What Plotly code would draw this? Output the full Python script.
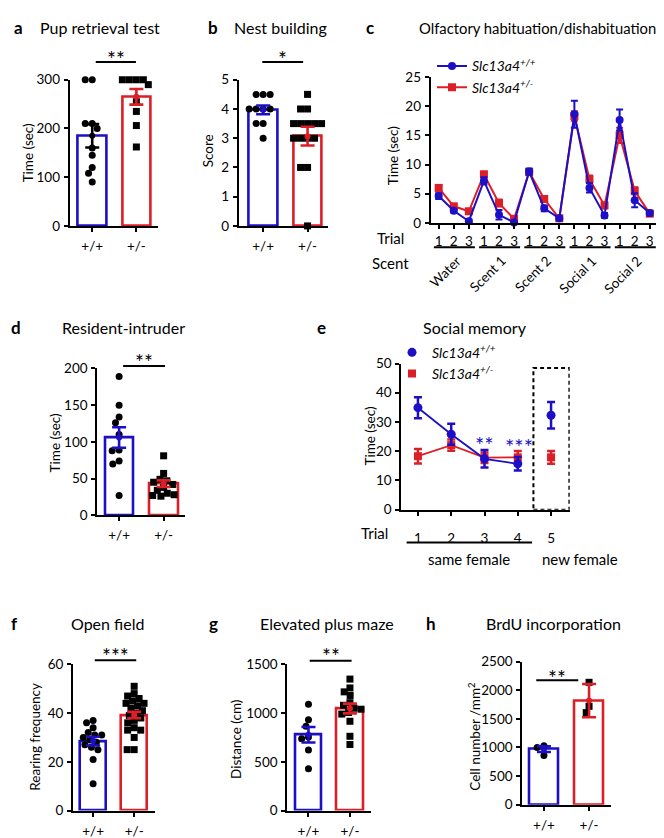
import numpy as np
import plotly.graph_objects as go

W, H = 664, 838
FONT = "Lato, 'Open Sans', sans-serif"
BLUE = "#1d0fc6"
RED = "#dc1f26"

# ---------------- data ----------------
genotypes = ["+/+", "+/-"]

# a  Pup retrieval test (sec)
a_wt = [300, 300, 210, 210, 200, 160, 145, 120, 108, 90]
a_het = [300, 300, 300, 300, 290, 255, 235, 206, 162]
a_mean = [185, 265]
a_sem = [24, 16]

# b  Nest building (score)
b_wt = [4.5, 4.5, 4.5, 4, 4, 4, 4, 3.5, 3.5, 3]
b_het = [4.5, 4, 4, 3.5, 3.5, 3.5, 3.5, 3.5, 3, 3, 3, 3, 2, 2, 0]
b_mean = [3.97, 3.07]
b_sem = [0.15, 0.32]

# c  Olfactory habituation/dishabituation (sec)
c_trials = ["1", "2", "3"] * 5
c_scents = ["Water", "Scent 1", "Scent 2", "Social 1", "Social 2"]
c_wt = [4.6, 2.1, 0.3, 7.2, 1.4, 0.1, 8.8, 2.5, 0.8, 18.6, 6.0, 1.3, 17.6, 3.9, 1.7]
c_wt_err = [0.5, 0.3, 0.3, 0.6, 0.8, 0.2, 0.5, 0.5, 0.3, 2.3, 0.8, 0.4, 1.8, 1.2, 0.4]
c_het = [6.0, 2.85, 2.0, 8.3, 3.4, 0.7, 8.7, 4.1, 0.8, 18.3, 7.5, 3.0, 15.0, 5.5, 1.6]
c_het_err = [0.5, 0.3, 0.3, 0.5, 0.6, 0.3, 0.5, 0.5, 0.3, 0.8, 0.6, 0.5, 1.3, 0.6, 0.4]

# d  Resident-intruder (sec)
d_wt = [189, 150, 134, 126, 110, 89, 88, 74, 70, 27]
d_het = [81, 57, 49, 47, 45, 42, 38, 34, 30, 28, 27, 26]
d_mean = [106, 43]
d_sem = [14, 4.5]

# e  Social memory (sec)
e_trials = [1, 2, 3, 4, 5]
e_wt = [34.9, 25.8, 17.4, 15.7, 32.3]
e_wt_err = [3.6, 3.6, 3.0, 2.3, 4.5]
e_het = [18.3, 22.1, 17.8, 17.9, 17.9]
e_het_err = [2.5, 1.9, 1.8, 2.2, 2.2]

# f  Open field (rearing frequency)
f_wt = [37, 36, 34, 32, 31, 31, 30, 29, 28, 27, 26, 25, 21, 11]
f_het = [51, 48, 47, 46, 45, 44, 44, 43, 42, 41, 40, 39, 38, 37, 36, 34, 33, 33, 30, 25, 25]
f_mean = [28.5, 39.2]
f_sem = [1.8, 1.3]

# g  Elevated plus maze (cm)
g_wt = [1090, 932, 866, 755, 738, 621, 430]
g_het = [1349, 1258, 1218, 1181, 1107, 1080, 1050, 1040, 1006, 990, 916, 762, 678]
g_mean = [778, 1047]
g_sem = [80, 50]

# h  BrdU incorporation (cells/mm2)
h_wt = [860, 1000, 1030]
h_het = [2140, 1720, 1610]
h_mean = [970, 1820]
h_sem = [50, 290]

# ---------------- helpers ----------------
def px(x):
    return x / W


def py(y):
    return 1 - y / H


BOX = {
    "a": dict(n="", x=(61.7, 150), y=(65, 214), xr=(-0.51, 1.49), yr=(0, 300), dt=100),
    "b": dict(n="2", x=(230.7, 320), y=(65, 214), xr=(-0.55, 1.46), yr=(0, 5), dt=1),
    "c": dict(n="3", x=(422.7, 649.3), y=(62, 211), xr=(-0.53, 14.5), yr=(0, 25), dt=5),
    "d": dict(n="4", x=(89.3, 177), y=(359.3, 509), xr=(-0.49, 1.48), yr=(0, 200), dt=50),
    "e": dict(n="5", x=(393.3, 561.7), y=(354.3, 503.3), xr=(0.5, 5.56), yr=(0, 50), dt=10),
    "f": dict(n="6", x=(65, 146.7), y=(661, 810), xr=(-0.49, 1.5), yr=(0, 60), dt=20),
    "g": dict(n="7", x=(279.3, 362.7), y=(661, 810), xr=(-0.51, 1.5), yr=(0, 1500), dt=500),
    "h": dict(n="8", x=(514.3, 602.7), y=(658.3, 804), xr=(-0.48, 1.48), yr=(0, 2500), dt=500),
}


def swarm(vals, ppu, ppc, d=7.0):
    vals = np.asarray(vals, float)
    order = np.argsort(-vals, kind="stable")
    placed = []
    offs = np.zeros(len(vals))
    for i in order:
        yv = vals[i] * ppu
        blocked = []
        for xp, yp in placed:
            dy = abs(yv - yp)
            if dy < d:
                dx = np.sqrt(d * d - dy * dy)
                blocked.append((xp - dx, xp + dx))
        cands = [0.0] + [b for iv in blocked for b in iv]
        cands = sorted(cands, key=lambda c: (round(abs(c), 6), c))
        xsel = 0.0
        for c in cands:
            if all(not (lo + 1e-6 < c < hi - 1e-6) for lo, hi in blocked):
                xsel = c
                break
        placed.append((xsel, yv))
        offs[i] = xsel / ppc
    return offs


fig = go.Figure()
annotations = []
shapes = []
layout_axes = {}

tickfont = dict(family=FONT, size=13.5, color="black")


def make_axes(key, xticks=None, xtext=None, standoff=2):
    b = BOX[key]
    n = b["n"]
    xa = dict(domain=[px(b["x"][0]), px(b["x"][1])], range=list(b["xr"]),
              anchor="y" + n, showline=True, linecolor="black", linewidth=2,
              ticks="outside", ticklen=4, tickwidth=2, tickcolor="black",
              showgrid=False, zeroline=False, tickfont=tickfont,
              tickvals=xticks, ticktext=xtext, ticklabelstandoff=standoff,
              fixedrange=True)
    ya = dict(domain=[py(b["y"][1]), py(b["y"][0])], range=list(b["yr"]),
              anchor="x" + n, showline=True, linecolor="black", linewidth=2,
              ticks="outside", ticklen=4, tickwidth=2, tickcolor="black",
              showgrid=False, zeroline=False, tickfont=tickfont,
              tick0=0, dtick=b["dt"], ticklabelstandoff=1, fixedrange=True)
    layout_axes["xaxis" + n] = xa
    layout_axes["yaxis" + n] = ya


def label(x, y, text, size=16, bold=False, angle=0, xref="paper", yref="paper",
          xanchor="center", yanchor="middle", color="black"):
    if bold:
        text = "<b>" + text + "</b>"
    annotations.append(dict(x=x, y=y, xref=xref, yref=yref, text=text, showarrow=False,
                            textangle=angle, xanchor=xanchor, yanchor=yanchor,
                            font=dict(family=FONT, size=size, color=color)))


def bar_panel(key, wt, het, means, sems, errcols, sig_x, sig_y, stars, star_y):
    b = BOX[key]
    n = b["n"]
    xs = np.arange(len(genotypes))
    make_axes(key, xticks=list(xs), xtext=genotypes, standoff=3)
    ppu = (b["y"][1] - b["y"][0]) / (b["yr"][1] - b["yr"][0])
    ppc = (b["x"][1] - b["x"][0]) / (b["xr"][1] - b["xr"][0])
    fig.add_trace(go.Bar(x=xs, y=means, width=0.64,
                         marker=dict(color="white", line=dict(color=[BLUE, RED], width=2.6)),
                         xaxis="x" + n, yaxis="y" + n, showlegend=False, cliponaxis=False))
    fig.add_trace(go.Scatter(x=xs[0] + swarm(wt, ppu, ppc), y=wt, mode="markers",
                             marker=dict(symbol="circle", size=7, color="black"),
                             xaxis="x" + n, yaxis="y" + n, showlegend=False, cliponaxis=False))
    fig.add_trace(go.Scatter(x=xs[1] + swarm(het, ppu, ppc), y=het, mode="markers",
                             marker=dict(symbol="square", size=7, color="black"),
                             xaxis="x" + n, yaxis="y" + n, showlegend=False, cliponaxis=False))
    for i in range(len(genotypes)):
        fig.add_trace(go.Scatter(x=[xs[i]], y=[means[i]], mode="markers",
                                 marker=dict(size=0, color=errcols[i]),
                                 error_y=dict(type="data", array=[sems[i]], color=errcols[i],
                                              thickness=2.6, width=7),
                                 xaxis="x" + n, yaxis="y" + n, showlegend=False, cliponaxis=False))
    shapes.append(dict(type="line", xref="x" + n, yref="paper", x0=sig_x[0], x1=sig_x[1],
                       y0=py(sig_y), y1=py(sig_y), line=dict(color="black", width=2)))
    label((sig_x[0] + sig_x[1]) / 2, py(star_y), stars, size=21, xref="x" + n)


# ---------------- bar panels ----------------
bar_panel("a", a_wt, a_het, a_mean, a_sem, ["black", RED], (0.08, 0.99), 47, "**", 43)
bar_panel("b", b_wt, b_het, b_mean, b_sem, [BLUE, RED], (-0.02, 0.9), 47, "*", 43)
bar_panel("d", d_wt, d_het, d_mean, d_sem, [BLUE, RED], (0.09, 1.03), 356.7, "**", 352)
bar_panel("f", f_wt, f_het, f_mean, f_sem, [BLUE, RED], (0.04, 1.05), 656.7, "***", 652)
bar_panel("g", g_wt, g_het, g_mean, g_sem, [BLUE, RED], (0.03, 1.04), 657.3, "**", 652)
bar_panel("h", h_wt, h_het, h_mean, h_sem, [BLUE, RED], (-0.17, 0.76), 677.3, "**", 674)

# ---------------- panel c ----------------
ci = np.arange(len(c_trials))
make_axes("c", xticks=list(ci), xtext=c_trials, standoff=1)
name_wt = "<i>Slc13a4</i><sup><i>+/+</i></sup>"
name_het = "<i>Slc13a4</i><sup><i>+/-</i></sup>"
fig.add_trace(go.Scatter(x=ci, y=c_het, mode="lines+markers", name=name_het,
                         line=dict(color=RED, width=2), marker=dict(symbol="square", size=8, color=RED),
                         error_y=dict(type="data", array=c_het_err, color=RED, thickness=2, width=3.5),
                         xaxis="x3", yaxis="y3", legend="legend", legendrank=2, cliponaxis=False))
fig.add_trace(go.Scatter(x=ci, y=c_wt, mode="lines+markers", name=name_wt,
                         line=dict(color=BLUE, width=2), marker=dict(symbol="circle", size=8, color=BLUE),
                         error_y=dict(type="data", array=c_wt_err, color=BLUE, thickness=2, width=3.5),
                         xaxis="x3", yaxis="y3", legend="legend", legendrank=1, cliponaxis=False))
for g, nm in enumerate(c_scents):
    shapes.append(dict(type="line", xref="x3", yref="paper", x0=3 * g - 0.32, x1=3 * g + 2.4,
                       y0=py(235.7), y1=py(235.7), line=dict(color="black", width=2)))
    label(3 * g + 1.85, py(239), nm, size=13.5, angle=-45, xref="x3",
          xanchor="right", yanchor="top")
label(px(383), py(226.5), "Trial", size=15)
label(px(383), py(252), "Scent", size=15)

# ---------------- panel e ----------------
make_axes("e", xticks=e_trials, xtext=[str(t) for t in e_trials], standoff=11)
fig.add_trace(go.Scatter(x=e_trials[:4], y=e_het[:4], mode="lines+markers",
                         line=dict(color=RED, width=1.8), marker=dict(symbol="square", size=8, color=RED),
                         error_y=dict(type="data", array=e_het_err[:4], color=RED, thickness=2.5, width=4),
                         xaxis="x5", yaxis="y5", showlegend=False, cliponaxis=False))
fig.add_trace(go.Scatter(x=e_trials[:4], y=e_wt[:4], mode="lines+markers",
                         line=dict(color=BLUE, width=1.8), marker=dict(symbol="circle", size=9, color=BLUE),
                         error_y=dict(type="data", array=e_wt_err[:4], color=BLUE, thickness=2.5, width=4),
                         xaxis="x5", yaxis="y5", showlegend=False, cliponaxis=False))
fig.add_trace(go.Scatter(x=e_trials[4:], y=e_het[4:], mode="markers", name=name_het,
                         marker=dict(symbol="square", size=8, color=RED),
                         error_y=dict(type="data", array=e_het_err[4:], color=RED, thickness=2.5, width=4),
                         xaxis="x5", yaxis="y5", legend="legend2", legendrank=2, cliponaxis=False))
fig.add_trace(go.Scatter(x=e_trials[4:], y=e_wt[4:], mode="markers", name=name_wt,
                         marker=dict(symbol="circle", size=9, color=BLUE),
                         error_y=dict(type="data", array=e_wt_err[4:], color=BLUE, thickness=2.5, width=4),
                         xaxis="x5", yaxis="y5", legend="legend2", legendrank=1, cliponaxis=False))
shapes.append(dict(type="rect", xref="x5", yref="y5", x0=4.47, x1=5.55, y0=0, y1=48.5,
                   line=dict(color="black", width=2, dash="4px,3px")))
shapes.append(dict(type="line", xref="x5", yref="paper", x0=0.66, x1=4.43,
                   y0=py(536.7), y1=py(536.7), line=dict(color="black", width=2)))
label(3, py(437), "**", size=22, xref="x5", color=BLUE)
label(4.05, py(439), "***", size=22, xref="x5", color=BLUE)
label(px(366.7), py(526.7), "Trial", size=15)
label(px(460.7), py(554), "same female", size=15)
label(px(571.7), py(554), "new female", size=15)

# ---------------- titles, letters, y titles ----------------
for txt, x, y in [("a", 10, 12), ("b", 205, 12), ("c", 362, 12), ("d", 8, 318),
                  ("e", 313, 318), ("f", 7, 619), ("g", 205, 619), ("h", 423, 619)]:
    label(px(x), py(y), txt, size=17, bold=True)

for txt, x, y, s in [("Pup retrieval test", 91.5, 12, 16), ("Nest building", 272.5, 12, 16),
                     ("Olfactory habituation/dishabituation", 529, 12, 14.8),
                     ("Resident-intruder", 115.3, 318, 16), ("Social memory", 466.7, 318, 16),
                     ("Open field", 99, 619, 16), ("Elevated plus maze", 319, 619, 16),
                     ("BrdU incorporation", 545, 619, 16)]:
    label(px(x), py(y), txt, size=s)

for txt, x, y in [("Time (sec)", 20, 140), ("Score", 200, 138), ("Time (sec)", 385, 143),
                  ("Time (sec)", 46.7, 435), ("Time (sec)", 361.7, 428),
                  ("Rearing frequency", 26.7, 735), ("Distance (cm)", 228, 738),
                  ("Cell number /mm<sup>2</sup>", 466.7, 735)]:
    label(px(x), py(y), txt, size=13.5, angle=-90)

legend_common = dict(bgcolor="rgba(0,0,0,0)", xanchor="left", yanchor="top",
                     font=dict(family=FONT, size=14, color="black"),
                     itemwidth=30, tracegroupgap=0, borderwidth=0)

fig.update_layout(
    width=W, height=H, autosize=False,
    margin=dict(l=0, r=0, t=0, b=0, pad=0),
    paper_bgcolor="white", plot_bgcolor="white",
    showlegend=True,
    legend=dict(x=px(424), y=py(35), **legend_common),
    legend2=dict(x=px(384), y=py(327), **legend_common),
    annotations=annotations, shapes=shapes,
    bargap=0,
    **layout_axes,
)

fig.write_html("out.html")
